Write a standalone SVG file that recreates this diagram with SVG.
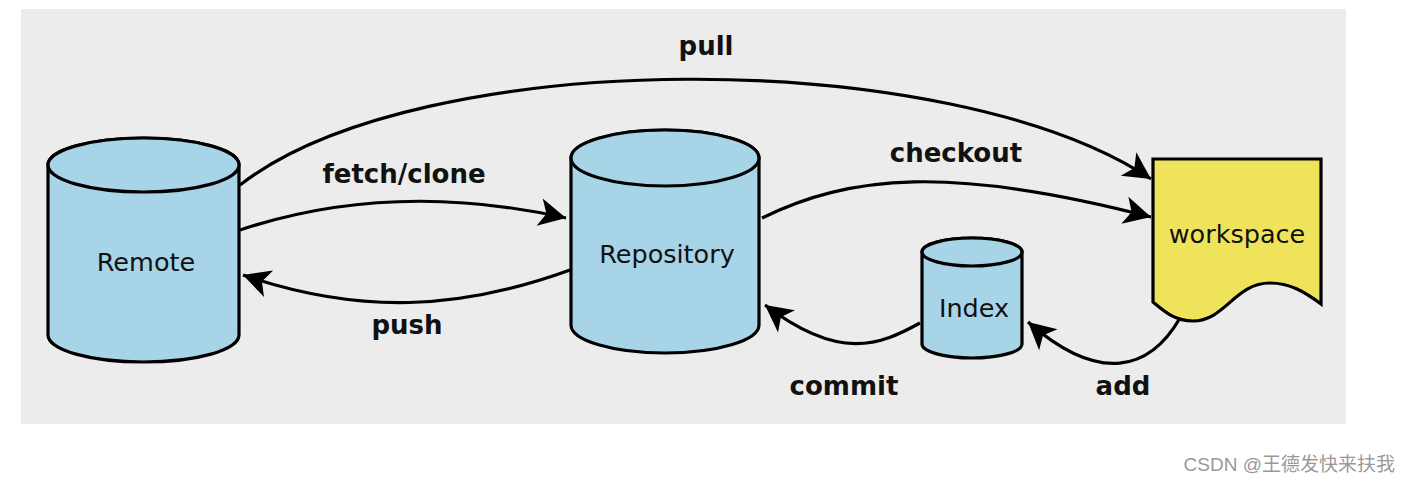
<svg xmlns="http://www.w3.org/2000/svg" width="1411" height="483" viewBox="0 0 1411 483">
<style>
.cyl{fill:#a8d4e8;stroke:#000;stroke-width:3.2}
.ws{fill:#efe35c;stroke:#000;stroke-width:3.2}
.node{font-family:"DejaVu Sans",sans-serif;font-size:25.5px;fill:#111;text-anchor:middle}
.lbl{font-family:"DejaVu Sans",sans-serif;font-size:26px;font-weight:bold;fill:#111;text-anchor:middle}
.edge{fill:none;stroke:#000;stroke-width:3.2;marker-end:url(#ah)}
</style>
<defs>
<marker id="ah" markerUnits="userSpaceOnUse" viewBox="-28 -15 30 30" refX="0" refY="0" markerWidth="30" markerHeight="30" orient="auto">
<path d="M0,0 L-27,-14 L-20,0 L-27,14 Z" fill="#000"/>
</marker>
</defs>
<rect x="21" y="9" width="1325" height="415" fill="#ececec"/>
<g id="connectors">
<path class="edge" d="M240,185 C420,45 950,45 1151,179"/>
<path class="edge" d="M240,230 C330,200 440,190 566,218"/>
<path class="edge" d="M570,270 C460,310 360,315 243,275"/>
<path class="edge" d="M762,218 C850,175 950,165 1151,217"/>
<path class="edge" d="M920,323 C880,345 840,362 765,305"/>
<path class="edge" d="M1180,318 C1150,370 1100,385 1028,322"/>
</g>
<g id="remote">
<path class="cyl" d="M48,165 L48,335 A95.5,27 0 0 0 239,335 L239,165 A95.5,27 0 0 0 48,165 Z"/>
<ellipse class="cyl" cx="143.5" cy="165" rx="95.5" ry="27"/>
<text class="node" x="146" y="271">Remote</text>
</g>
<g id="repository">
<path class="cyl" d="M571,158 L571,325 A94,28 0 0 0 759,325 L759,158 A94,28 0 0 0 571,158 Z"/>
<ellipse class="cyl" cx="665" cy="158" rx="94" ry="28"/>
<text class="node" x="667" y="263">Repository</text>
</g>
<g id="index">
<path class="cyl" d="M922,252 L922,344 A50,14 0 0 0 1022,344 L1022,252 A50,14 0 0 0 922,252 Z"/>
<ellipse class="cyl" cx="972" cy="252" rx="50" ry="14"/>
<text class="node" x="974" y="317">Index</text>
</g>
<g id="workspace">
<path class="ws" d="M1153,159 H1321 V304 C1305,292 1290,283 1270,283 C1235,283 1225,321 1193,321 C1175,321 1165,312 1153,302 Z"/>
<text class="node" x="1237" y="243">workspace</text>
</g>
<g id="labels">
<text class="lbl" x="706" y="55">pull</text>
<text class="lbl" x="404" y="183">fetch/clone</text>
<text class="lbl" x="407" y="334">push</text>
<text class="lbl" x="956" y="162">checkout</text>
<text class="lbl" x="844" y="395">commit</text>
<text class="lbl" x="1123" y="395">add</text>
</g>
<text x="1395" y="471" text-anchor="end" font-family="'Liberation Sans','Noto Sans CJK SC',sans-serif" font-size="19" fill="#999">CSDN @王德发快来扶我</text>
</svg>
